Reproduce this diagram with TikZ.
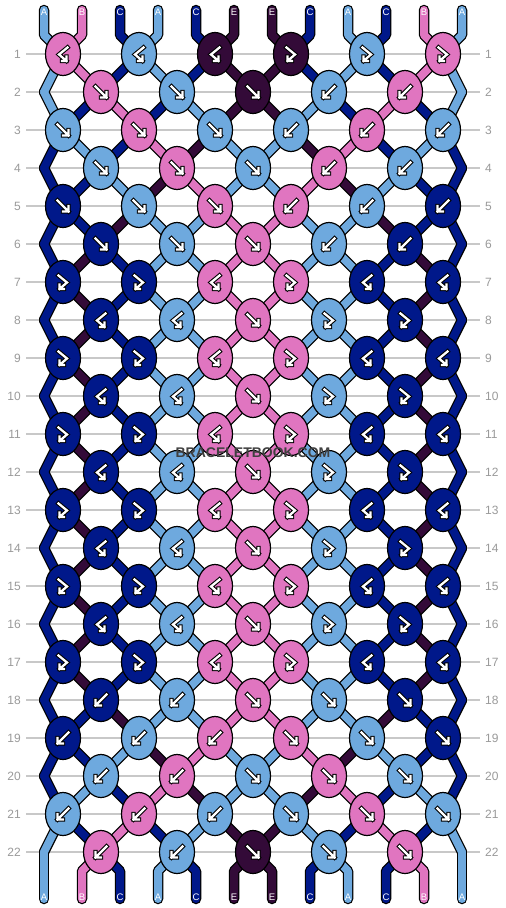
\documentclass[tikz,border=0pt]{standalone}
\usepackage{fontspec}
\setmainfont{Liberation Sans}
\usepackage{tikz}
\usetikzlibrary{shapes.geometric}

\definecolor{colA}{HTML}{6EA9DE}
\definecolor{colB}{HTML}{E075C0}
\definecolor{colC}{HTML}{00188A}
\definecolor{colE}{HTML}{330A38}
\definecolor{rowgray}{HTML}{9A9A9A}
\definecolor{linegray}{HTML}{C8C8C8}

\pgfdeclarelayer{bg}
\pgfdeclarelayer{strings}
\pgfsetlayers{bg,strings,main}

% arrows drawn inside the knots
\def\symF{(-5.5,-5.5) -- (5.5,5.5) (5.5,0) -- (5.5,5.5) -- (0,5.5)}
\def\symB{(5.5,-5.5) -- (-5.5,5.5) (-5.5,0) -- (-5.5,5.5) -- (0,5.5)}
\def\symFB{(-4.5,-6.5) -- (4,0.5) -- (-3.5,7) (-3.5,2.5) -- (-3.5,7) -- (1,7)}
\def\symBF{(4.5,-6.5) -- (-4,0.5) -- (3.5,7) (3.5,2.5) -- (3.5,7) -- (-1,7)}

\newcommand\knotsym[2]{%
	\draw[symout, shift={(#2.center)}] \csname sym#1\endcsname;
	\draw[symin, shift={(#2.center)}] \csname sym#1\endcsname;
}

% name of the knot (or edge point) that holds string position #3 in row #2
\newcommand\setpname[3]{%
	\pgfmathtruncatemacro\tmpodd{mod(#2,2)}%
	\ifnum\tmpodd=1
		\pgfmathtruncatemacro\tmpj{ceil(#3/2)}%
		\edef#1{k-#2-\tmpj}%
	\else
		\ifnum#3=1
			\edef#1{eL-#2}%
		\else\ifnum#3=12
			\edef#1{eR-#2}%
		\else
			\pgfmathtruncatemacro\tmpj{floor(#3/2)}%
			\edef#1{k-#2-\tmpj}%
		\fi\fi
	\fi}

\begin{document}
\begin{tikzpicture}[x=1pt,y=-1pt]
	\tikzstyle{knot}=[ellipse, draw=black, line width=1.2pt, minimum width=35pt, minimum height=43pt, inner sep=0pt]
	\tikzstyle{thread}=[line cap=round, line join=round]
	\tikzstyle{symout}=[draw=black, line width=4.4pt, line cap=rect, line join=miter]
	\tikzstyle{symin}=[draw=white, line width=2.3pt, line cap=rect, line join=miter]
	\tikzstyle{rownum}=[text=rowgray, inner sep=0pt, font=\fontsize{12}{14}\selectfont]
	\tikzstyle{strlabel}=[text=white, inner sep=0pt, font=\fontsize{9.5}{11}\selectfont]
	\tikzstyle{gridline}=[draw=linegray, line width=1.3pt, shorten <=5pt, shorten >=5pt]

	\useasboundingbox (0,0) rectangle (506,908);
	\begin{pgfonlayer}{bg}
		\fill[white] (0,0) rectangle (506,908);
	\end{pgfonlayer}

	% row numbers and guide lines
	\foreach \r in {1,...,22}{
		\pgfmathsetmacro\ky{54+38*(\r-1)}
		\node[rownum, anchor=east] (lnum-\r) at (21,\ky) {\r};
		\node[rownum, anchor=west] (rnum-\r) at (485,\ky) {\r};
		\begin{pgfonlayer}{bg}
			\draw[gridline] (lnum-\r) -- (rnum-\r);
		\end{pgfonlayer}
	}

	% knots: colour/type per row
	\foreach \r/\knots in {
		1/{B/BF,A/BF,E/BF,E/FB,A/FB,B/FB},
		2/{B/F,A/F,E/F,A/B,B/B},
		3/{A/F,B/F,A/F,A/B,B/B,A/B},
		4/{A/F,B/F,A/F,B/B,A/B},
		5/{C/F,A/F,B/F,B/B,A/B,C/B},
		6/{C/F,A/F,B/F,A/B,C/B},
		7/{C/FB,C/FB,B/BF,B/FB,C/BF,C/BF},
		8/{C/BF,A/BF,B/F,A/FB,C/FB},
		9/{C/FB,C/FB,B/BF,B/FB,C/BF,C/BF},
		10/{C/BF,A/BF,B/F,A/FB,C/FB},
		11/{C/FB,C/FB,B/BF,B/FB,C/BF,C/BF},
		12/{C/BF,A/BF,B/F,A/FB,C/FB},
		13/{C/FB,C/FB,B/BF,B/FB,C/BF,C/BF},
		14/{C/BF,A/BF,B/F,A/FB,C/FB},
		15/{C/FB,C/FB,B/BF,B/FB,C/BF,C/BF},
		16/{C/BF,A/BF,B/F,A/FB,C/FB},
		17/{C/FB,C/FB,B/BF,B/FB,C/BF,C/BF},
		18/{C/B,A/B,B/F,A/F,C/F},
		19/{C/B,A/B,B/B,B/F,A/F,C/F},
		20/{A/B,B/B,A/F,B/F,A/F},
		21/{A/B,B/B,A/B,A/F,B/F,A/F},
		22/{B/B,A/B,E/F,A/F,B/F}}{
		\pgfmathsetmacro\ky{54+38*(\r-1)}
		\pgfmathtruncatemacro\odd{mod(\r,2)}
		\ifnum\odd=0
			\coordinate (eL-\r) at (44,\ky);
			\coordinate (eR-\r) at (462,\ky);
		\fi
		\foreach \c/\t [count=\j] in \knots {
			\pgfmathsetmacro\kx{(\odd==1) ? (63+76*(\j-1)) : (101+76*(\j-1))}
			\node[knot, fill=col\c] (k-\r-\j) at (\kx,\ky) {};
			\knotsym{\t}{k-\r-\j}
		}
	}

	% thread ends with their letters
	\foreach \c [count=\p] in {A,B,C,A,C,E,E,C,A,C,B,A}{
		\pgfmathsetmacro\sx{44+38*(\p-1)}
		\coordinate (t-\p) at (\sx,10);
		\coordinate (tb-\p) at (\sx,35);
		\coordinate (bb-\p) at (\sx,871);
		\coordinate (b-\p) at (\sx,899);
		\node[strlabel] (lt-\p) at (\sx,12.5) {\c};
		\node[strlabel] (lb-\p) at (\sx,897) {\c};
	}

	% threads: black pass, then colour pass
	\begin{pgfonlayer}{strings}
	\foreach \lw/\ink in {10.5/0,8/1}{
		\foreach \c [count=\p] in {A,B,C,A,C,E,E,C,A,C,B,A}{
			\ifnum\ink=0 \def\sc{black}\else\def\sc{col\c}\fi
			\setpname\pa{1}{\p}
			\draw[thread, line width=\lw, draw=\sc] (t-\p) -- (tb-\p) -- (\pa.center);
		}
		\foreach \r/\cols in {
			1/{A,B,C,A,C,E,E,C,A,C,B,A},
			2/{A,C,B,C,A,E,E,A,C,B,C,A},
			3/{C,A,C,B,E,A,A,E,B,C,A,C},
			4/{C,C,A,E,B,A,A,B,E,A,C,C},
			5/{C,C,E,A,A,B,B,A,A,E,C,C},
			6/{C,E,C,A,A,B,B,A,A,C,E,C},
			7/{C,E,C,A,A,B,B,A,A,C,E,C},
			8/{C,E,C,A,A,B,B,A,A,C,E,C},
			9/{C,E,C,A,A,B,B,A,A,C,E,C},
			10/{C,E,C,A,A,B,B,A,A,C,E,C},
			11/{C,E,C,A,A,B,B,A,A,C,E,C},
			12/{C,E,C,A,A,B,B,A,A,C,E,C},
			13/{C,E,C,A,A,B,B,A,A,C,E,C},
			14/{C,E,C,A,A,B,B,A,A,C,E,C},
			15/{C,E,C,A,A,B,B,A,A,C,E,C},
			16/{C,E,C,A,A,B,B,A,A,C,E,C},
			17/{C,E,C,A,A,B,B,A,A,C,E,C},
			18/{C,C,E,A,A,B,B,A,A,E,C,C},
			19/{C,C,A,E,B,A,A,B,E,A,C,C},
			20/{C,A,C,B,E,A,A,E,B,C,A,C},
			21/{A,C,B,C,A,E,E,A,C,B,C,A}}{
			\pgfmathtruncatemacro\rn{\r+1}
			\foreach \c [count=\p] in \cols {
				\ifnum\ink=0 \def\sc{black}\else\def\sc{col\c}\fi
				\setpname\pa{\r}{\p}
				\setpname\pb{\rn}{\p}
				\draw[thread, line width=\lw, draw=\sc] (\pa.center) -- (\pb.center);
			}
		}
		\foreach \c [count=\p] in {A,B,C,A,C,E,E,C,A,C,B,A}{
			\ifnum\ink=0 \def\sc{black}\else\def\sc{col\c}\fi
			\setpname\pa{22}{\p}
			\draw[thread, line width=\lw, draw=\sc] (\pa.center) -- (bb-\p) -- (b-\p);
		}
	}
	\end{pgfonlayer}

	\node[text=black!75, font=\bfseries\fontsize{14}{16}\selectfont] (mark) at (253,453) {BRACELETBOOK.COM};
\end{tikzpicture}
\end{document}
